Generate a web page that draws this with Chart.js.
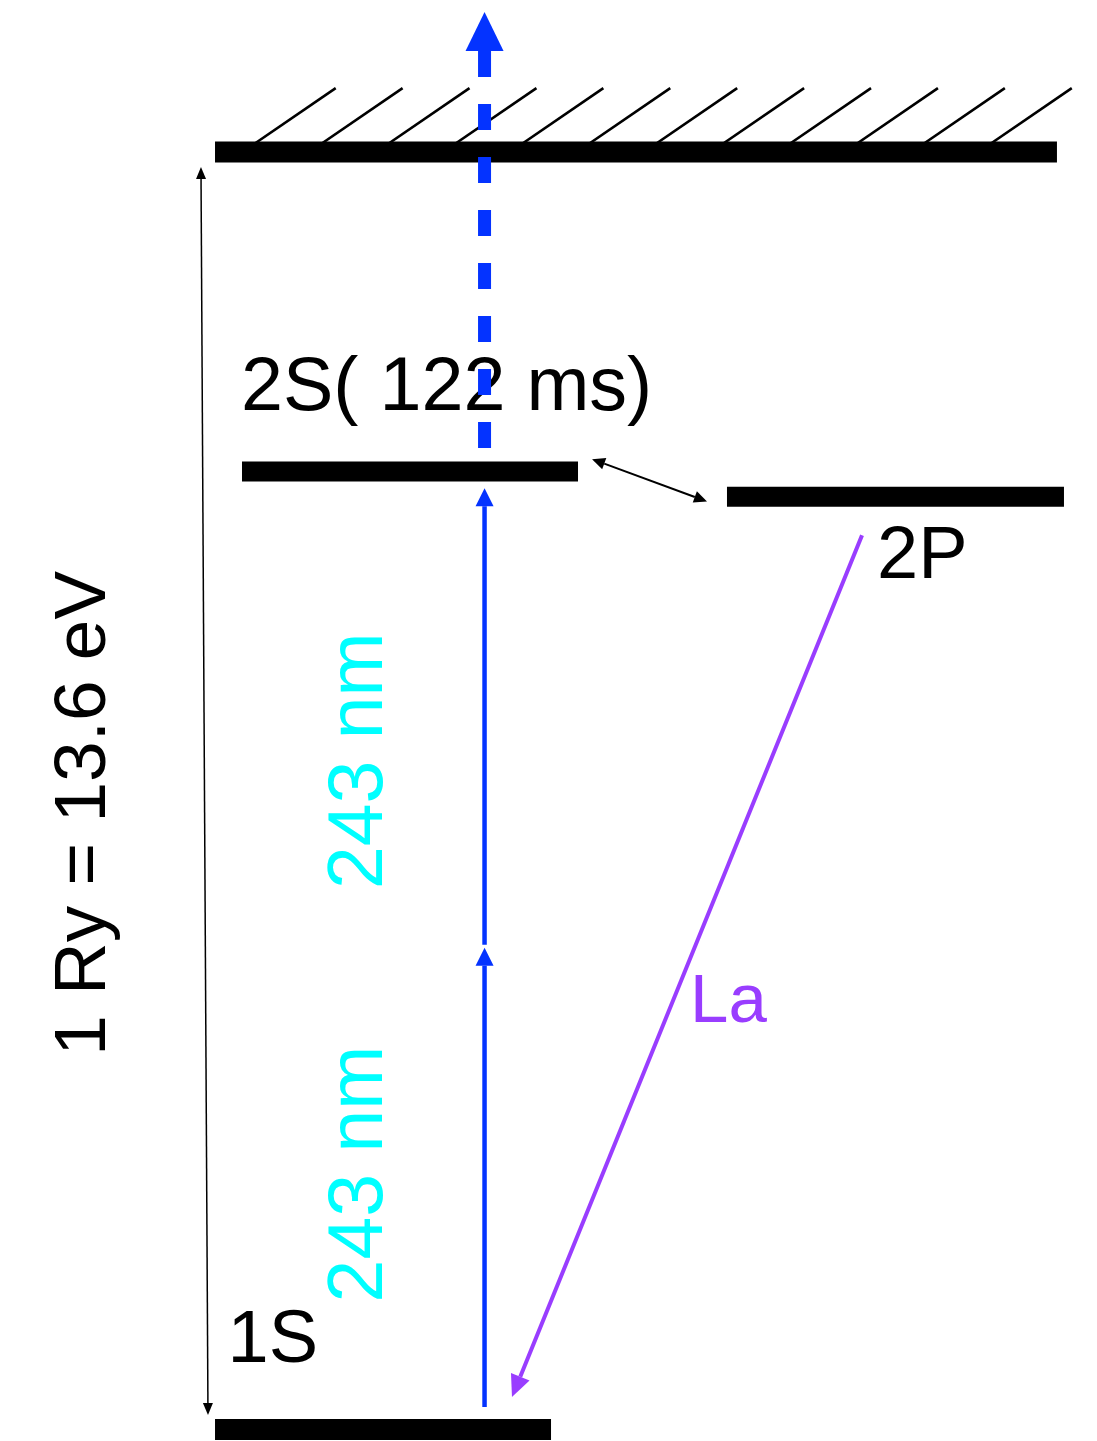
<!DOCTYPE html>
<html>
<head>
<meta charset="utf-8">
<script src="https://cdn.jsdelivr.net/npm/chart.js@4.4.1/dist/chart.umd.min.js"></script>
<style>
  html, body { margin: 0; padding: 0; background: #ffffff; }
  canvas { display: block; }
</style>
</head>
<body>
<canvas id="levels" width="1097" height="1441"></canvas>
<script>
// Hydrogen term scheme, energies in eV above 1S (2P is drawn slightly below 2S to separate them)
const levelNames  = ['Continuum', '2S', '2P', '1S'];
const levelEnergy = [13.6, 10.2, 9.93, 0];
const levelStart  = [19.6, 22.06, 66.27, 19.6];
const levelEnd    = [96.35, 52.69, 96.99, 50.23];

// Hatching above the ionisation limit (left ends on the limit)
const hatchStart = [22.1, 28.2, 34.3, 40.4, 46.5, 52.6, 58.7, 64.8, 70.9, 77.0, 83.1, 89.2];
const hatchRun = 8.5;
const hatchRise = 0.68;

// Two-photon excitation 1S -> 2S, one 243 nm photon per step
const photonX    = 44.17;
const photonFrom = [0.24, 5.16];
const photonTo   = [5.13, 10.02];

// Photo-ionisation out of 2S
const ionFrom = 10.43;
const ionTo   = 15.09;

// Lyman-alpha decay 2P -> 1S
const lyaFrom = [78.58, 9.52];
const lyaTo   = [46.67, 0.346];

// 2S <-> 2P coupling
const mixA = [53.97, 10.33];
const mixB = [64.45, 9.88];

// Span of the ionisation energy
const spanTop    = [18.32, 13.44];
const spanBottom = [18.96, 0.154];

// Text labels and their anchors
const labelText = ['2S( 122 ms)', '2P', '1S', '1 Ry = 13.6 eV', '243 nm', '243 nm', 'La'];
const labelX    = [21.97, 79.95, 20.74, 9.57, 34.82, 34.82, 62.9];
const labelY    = [10.85, 9.07, 0.72, 6.56, 7.12, 2.72, 4.34];

const BLUE = '#0433FF';
const PURPLE = '#993DFF';
const CYAN = '#00FFFF';

const labelStyle = [
  { font: '75.5px "Liberation Sans", Arial, sans-serif', color: '#000', rotate: false },
  { font: '74px "Liberation Sans", Arial, sans-serif', color: '#000', rotate: false },
  { font: '74px "Liberation Sans", Arial, sans-serif', color: '#000', rotate: false },
  { font: '73px "Liberation Sans", Arial, sans-serif', color: '#000', rotate: true },
  { font: '77px "Liberation Sans", Arial, sans-serif', color: CYAN, rotate: true },
  { font: '77px "Liberation Sans", Arial, sans-serif', color: CYAN, rotate: true },
  { font: '69px "Liberation Sans", Arial, sans-serif', color: PURPLE, rotate: false }
];

const arrows = [
  { from: [photonX, photonFrom[0]], to: [photonX, photonTo[0]], color: BLUE, width: 4.5, head: [18, 9] },
  { from: [photonX, photonFrom[1]], to: [photonX, photonTo[1]], color: BLUE, width: 4.5, head: [18, 9] },
  { from: [photonX, ionFrom], to: [photonX, ionTo], color: BLUE, width: 13, head: [39, 19], dash: [26, 27] },
  { from: lyaFrom, to: lyaTo, color: PURPLE, width: 4, head: [22, 10] },
  { from: mixA, to: mixB, color: '#000', width: 2, head: [13, 6], both: true },
  { from: spanBottom, to: spanTop, color: '#000', width: 1.5, head: [12, 5], both: true }
];

const levelThickness = [21, 20, 20, 21];

const datasets = [];
levelNames.forEach((name, i) => {
  datasets.push({
    label: name,
    data: [{ x: levelStart[i], y: levelEnergy[i] }, { x: levelEnd[i], y: levelEnergy[i] }],
    borderColor: '#000000',
    borderWidth: levelThickness[i],
    borderCapStyle: 'butt',
    pointRadius: 0,
    clip: false,
    order: 1
  });
});
hatchStart.forEach((s, i) => {
  datasets.push({
    label: 'hatch ' + (i + 1),
    data: [{ x: s, y: levelEnergy[0] }, { x: s + hatchRun, y: levelEnergy[0] + hatchRise }],
    borderColor: '#000000',
    borderWidth: 2.6,
    pointRadius: 0,
    clip: false,
    order: 2
  });
});

// Text labels and arrows, placed through the chart scales
const overlay = {
  id: 'overlay',
  afterDatasetsDraw(chart) {
    const ctx = chart.ctx;
    const xs = chart.scales.x, ys = chart.scales.y;
    const px = p => [xs.getPixelForValue(p[0]), ys.getPixelForValue(p[1])];

    labelText.forEach((t, i) => {
      const st = labelStyle[i];
      const x = xs.getPixelForValue(labelX[i]);
      const y = ys.getPixelForValue(labelY[i]);
      ctx.save();
      ctx.font = st.font;
      ctx.fillStyle = st.color;
      ctx.textBaseline = 'alphabetic';
      if (st.rotate) {
        ctx.translate(x, y);
        ctx.rotate(-Math.PI / 2);
        ctx.textAlign = 'center';
        ctx.fillText(t, 0, 0);
      } else {
        ctx.textAlign = 'left';
        ctx.fillText(t, x, y);
      }
      ctx.restore();
    });

    arrows.forEach(a => {
      const p0 = px(a.from), p1 = px(a.to);
      const dx = p1[0] - p0[0], dy = p1[1] - p0[1];
      const len = Math.hypot(dx, dy);
      const ux = dx / len, uy = dy / len;
      const nx = -uy, ny = ux;
      const [hl, hw] = a.head;
      const end = [p1[0] - ux * hl, p1[1] - uy * hl];
      const start = a.both ? [p0[0] + ux * hl, p0[1] + uy * hl] : p0;

      ctx.save();
      ctx.strokeStyle = a.color;
      ctx.fillStyle = a.color;
      ctx.lineWidth = a.width;
      ctx.lineCap = 'butt';
      if (a.dash) ctx.setLineDash(a.dash);
      ctx.beginPath();
      // dashed shafts start their pattern at the arrow head
      if (a.dash) { ctx.moveTo(end[0], end[1]); ctx.lineTo(start[0], start[1]); }
      else { ctx.moveTo(start[0], start[1]); ctx.lineTo(end[0], end[1]); }
      ctx.stroke();
      ctx.setLineDash([]);

      const head = (tip, bx, by) => {
        ctx.beginPath();
        ctx.moveTo(tip[0], tip[1]);
        ctx.lineTo(bx + nx * hw, by + ny * hw);
        ctx.lineTo(bx - nx * hw, by - ny * hw);
        ctx.closePath();
        ctx.fill();
      };
      head(p1, end[0], end[1]);
      if (a.both) head(p0, start[0], start[1]);
      ctx.restore();
    });
  }
};

new Chart(document.getElementById('levels'), {
  type: 'line',
  data: { datasets },
  options: {
    responsive: false,
    animation: false,
    devicePixelRatio: 1,
    events: [],
    layout: { padding: 0 },
    elements: { line: { tension: 0 }, point: { radius: 0 } },
    plugins: { legend: { display: false }, tooltip: { enabled: false } },
    scales: {
      x: { type: 'linear', min: 0, max: 100, display: false },
      y: { type: 'linear', min: -0.122, max: 15.218, display: false }
    }
  },
  plugins: [overlay]
});
</script>
</body>
</html>
